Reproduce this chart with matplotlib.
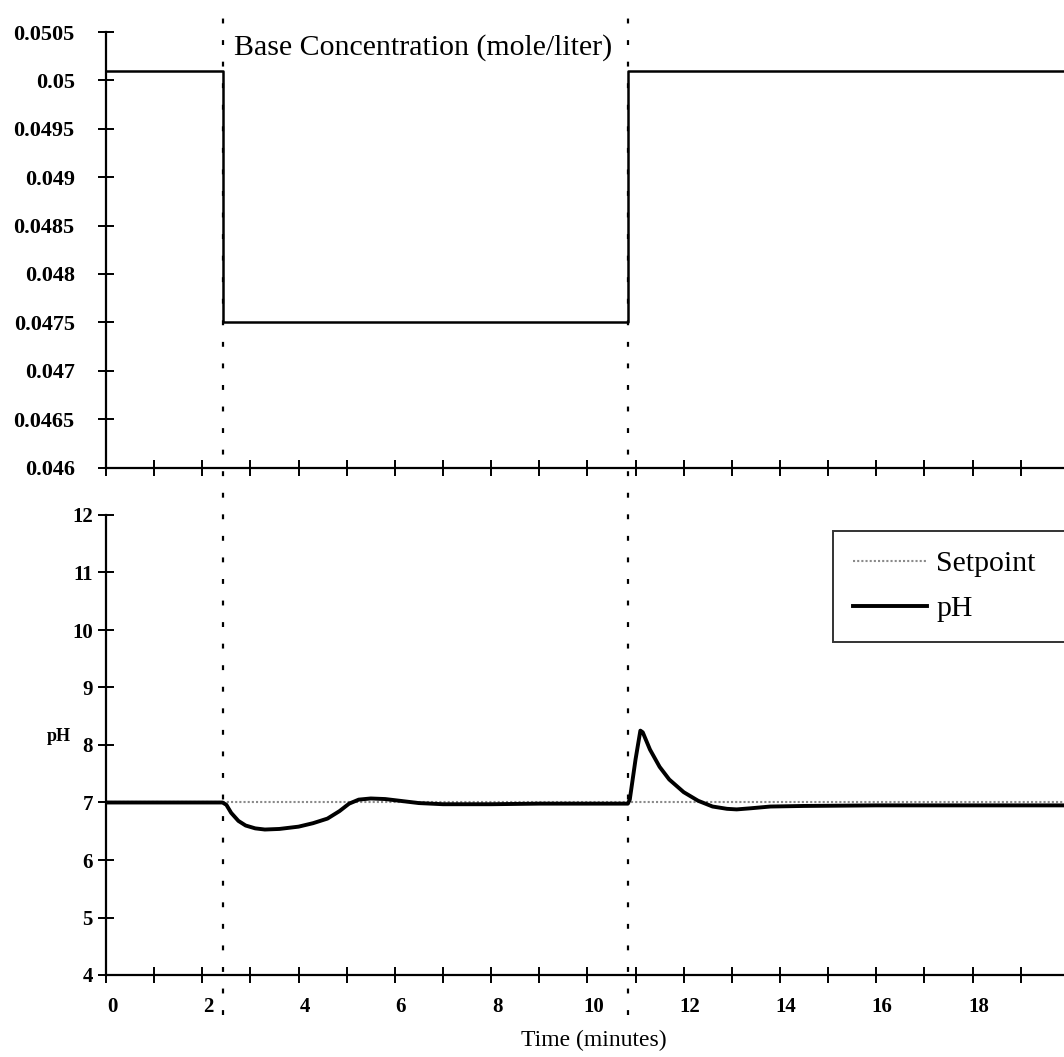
import matplotlib
matplotlib.use("Agg")
import matplotlib.pyplot as plt
from matplotlib.transforms import ScaledTranslation, blended_transform_factory
from matplotlib.lines import Line2D

# ---------------- data ----------------
base_time = [0.0, 2.42, 2.42, 10.84, 10.84, 19.9]
base_conc = [0.0501, 0.0501, 0.0475, 0.0475, 0.0501, 0.0501]

ph_time = [0.0, 2.42, 2.5, 2.6, 2.75, 2.9, 3.1, 3.3, 3.6, 4.0, 4.3, 4.6, 4.85,
           5.05, 5.25, 5.5, 5.8, 6.1, 6.5, 7.0, 8.0, 9.0, 10.0, 10.84, 10.88,
           11.0, 11.1, 11.15, 11.3, 11.5, 11.7, 12.0, 12.3, 12.6, 12.9, 13.1,
           13.4, 13.8, 14.5, 16.0, 18.0, 19.9]
ph_value = [7.0, 7.0, 6.96, 6.82, 6.68, 6.60, 6.55, 6.53, 6.54, 6.58, 6.64,
            6.72, 6.85, 6.98, 7.05, 7.07, 7.06, 7.03, 6.99, 6.97, 6.97, 6.98,
            6.98, 6.98, 7.05, 7.75, 8.25, 8.22, 7.92, 7.62, 7.40, 7.18, 7.03,
            6.93, 6.89, 6.88, 6.90, 6.93, 6.94, 6.95, 6.95, 6.95]

setpoint_time = [0.0, 19.9]
setpoint_value = [7.0, 7.0]

step_times = [2.42, 10.84]

conc_ticks = [0.046, 0.0465, 0.047, 0.0475, 0.048, 0.0485, 0.049, 0.0495, 0.05, 0.0505]
conc_labels = ["0.046", "0.0465", "0.047", "0.0475", "0.048", "0.0485", "0.049",
               "0.0495", "0.05", "0.0505"]
ph_ticks = [4, 5, 6, 7, 8, 9, 10, 11, 12]
minute_ticks = list(range(0, 20))
time_labels = [str(m) if m % 2 == 0 else "" for m in minute_ticks]

# ---------------- style ----------------
plt.rcParams['font.family'] = ['Liberation Serif', 'DejaVu Serif']
W, H = 1064, 1057
fig = plt.figure(figsize=(W / 100, H / 100), dpi=100)

def fx(px):
    return px / W

def fy(py):
    return 1 - py / H

left = fx(106)
ax1 = fig.add_axes([left, fy(467.5), 1 - left, fy(32) - fy(467.5)])
ax2 = fig.add_axes([left, fy(975), 1 - left, fy(515) - fy(975)])

for ax in (ax1, ax2):
    ax.set_xlim(0, 19.9)
    for s in ("top", "right"):
        ax.spines[s].set_visible(False)
    for s in ("left", "bottom"):
        ax.spines[s].set_linewidth(1.6)
    ax.set_xticks(minute_ticks)
    ax.tick_params(axis="both", direction="inout", length=11, width=1.4,
                   labelsize=15)
    ax.patch.set_visible(False)

# top panel
ax1.plot(base_time, base_conc, color="black", lw=1.8)
ax1.set_ylim(0.046, 0.0505)
ax1.set_yticks(conc_ticks)
ax1.set_yticklabels(conc_labels, fontweight="bold")
ax1.tick_params(axis="y", pad=17, labelsize=16)
ax1.set_xticklabels([])
ax1.text(0.134, 0.965, "Base Concentration (mole/liter)", transform=ax1.transAxes,
         fontsize=21.5, ha="left", va="center")

# bottom panel
ax2.plot(setpoint_time, setpoint_value, color="#8a8a8a", lw=1.5,
         linestyle=(0, (1, 1)), label="Setpoint")
ax2.plot(ph_time, ph_value, color="black", lw=2.8, label="pH")
ax2.set_ylim(4, 12)
ax2.set_yticks(ph_ticks)
ax2.set_yticklabels([str(v) for v in ph_ticks], fontweight="bold")
ax2.tick_params(axis="y", pad=4)
ax2.set_xticklabels(time_labels, fontweight="bold")
ax2.tick_params(axis="x", pad=10)
off = ScaledTranslation(6 / 100, 0, fig.dpi_scale_trans)
for lab in ax2.get_xticklabels():
    lab.set_transform(lab.get_transform() + off)
ax2.set_ylabel("pH", rotation=0, fontsize=13, fontweight="bold")
ax2.yaxis.set_label_coords(-0.049, 0.5)

leg = ax2.legend(loc="upper left", bbox_to_anchor=(0.759, 0.965, 0.3, 0.0),
                 mode="expand", fontsize=21.5, frameon=True, fancybox=False,
                 edgecolor="black", handlelength=2.5, handletextpad=0.3,
                 labelspacing=0.6, borderpad=0.65, borderaxespad=0)
leg.get_frame().set_linewidth(1.4)

fig.text(fx(594), fy(1040), "Time (minutes)", fontsize=17, ha="center", va="center")

# vertical dotted markers spanning both panels
tr = blended_transform_factory(ax2.transData, fig.transFigure)
for t in step_times:
    fig.add_artist(Line2D([t, t], [fy(1015), fy(8)], transform=tr, color="black",
                          lw=1.6, linestyle=(0, (2.2, 7.5))))

fig.savefig("out.png", dpi=100)
